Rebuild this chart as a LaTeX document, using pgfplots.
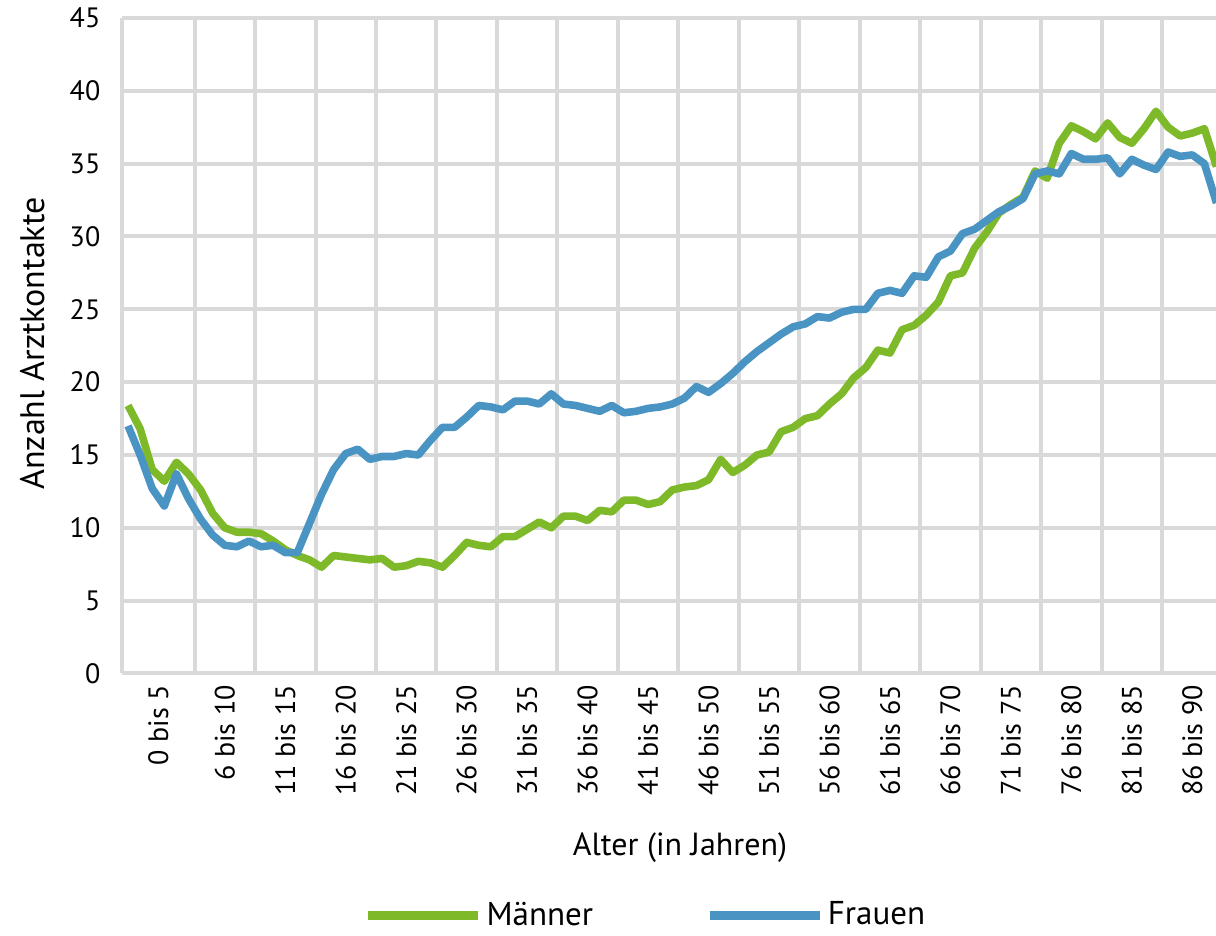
\documentclass[border=0pt]{standalone}
\usepackage{fontspec}
\setmainfont{PT Sans}
\usepackage{pgfplots}
\usepackage{pgfplotstable}
\pgfplotsset{compat=1.18}
\definecolor{mgreen}{RGB}{125,185,40}
\definecolor{fblue}{RGB}{74,148,196}
\definecolor{gridgray}{RGB}{217,217,217}
\pgfplotstableread{
a m f
0 18.4 17.0
1 16.8 15.0
2 14.0 12.7
3 13.2 11.5
4 14.5 13.7
5 13.7 12.0
6 12.6 10.6
7 11.0 9.5
8 10.0 8.8
9 9.7 8.7
10 9.7 9.1
11 9.6 8.7
12 9.1 8.8
13 8.5 8.3
14 8.1 8.3
15 7.8 10.3
16 7.3 12.3
17 8.1 14.0
18 8.0 15.1
19 7.9 15.4
20 7.8 14.7
21 7.9 14.9
22 7.3 14.9
23 7.4 15.1
24 7.7 15.0
25 7.6 16.0
26 7.3 16.9
27 8.1 16.9
28 9.0 17.6
29 8.8 18.4
30 8.7 18.3
31 9.4 18.1
32 9.4 18.7
33 9.9 18.7
34 10.4 18.5
35 10.0 19.2
36 10.8 18.5
37 10.8 18.4
38 10.5 18.2
39 11.2 18.0
40 11.1 18.4
41 11.9 17.9
42 11.9 18.0
43 11.6 18.2
44 11.8 18.3
45 12.6 18.5
46 12.8 18.9
47 12.9 19.7
48 13.3 19.3
49 14.7 19.9
50 13.8 20.6
51 14.3 21.4
52 15.0 22.1
53 15.2 22.7
54 16.6 23.3
55 16.9 23.8
56 17.5 24.0
57 17.7 24.5
58 18.5 24.4
59 19.2 24.8
60 20.3 25.0
61 21.0 25.0
62 22.2 26.1
63 22.0 26.3
64 23.6 26.1
65 23.9 27.3
66 24.6 27.2
67 25.5 28.6
68 27.3 29.0
69 27.5 30.2
70 29.2 30.5
71 30.3 31.1
72 31.6 31.7
73 32.2 32.1
74 32.7 32.6
75 34.5 34.3
76 34.0 34.5
77 36.4 34.3
78 37.6 35.7
79 37.2 35.3
80 36.7 35.3
81 37.8 35.4
82 36.8 34.3
83 36.4 35.3
84 37.4 34.9
85 38.6 34.6
86 37.5 35.8
87 36.9 35.5
88 37.1 35.6
89 37.4 35.0
90 34.8 32.3
}\data
\begin{document}
\fontsize{14}{17}\selectfont
\begin{tikzpicture}
\begin{axis}[
  at={(0,0)}, anchor=south west,
  width=547pt, height=327.75pt, scale only axis,
  xmin=-0.5, xmax=89.96, ymin=0, ymax=45,
  axis x line*=bottom, axis y line*=left,
  axis line style={draw=gridgray, line width=2pt, -},
  major tick length=0pt,
  xtick={5.5,10.5,...,85.5},
  xticklabels={},
  extra x ticks={2.5,8,13,18,23,28,33,38,43,48,53,58,63,68,73,78,83,88},
  extra x tick labels={0 bis 5,6 bis 10,11 bis 15,16 bis 20,21 bis 25,26 bis 30,31 bis 35,36 bis 40,41 bis 45,46 bis 50,51 bis 55,56 bis 60,61 bis 65,66 bis 70,71 bis 75,76 bis 80,81 bis 85,86 bis 90},
  extra x tick style={grid=none, xticklabel style={rotate=90, anchor=east, xshift=-1pt}},
  ytick={0,5,...,45},
  yticklabel style={xshift=-6pt},
  /pgf/number format/assume math mode=true,
  xmajorgrids, ymajorgrids,
  grid style={draw=gridgray, line width=2pt},
  xlabel={Alter (in Jahren)},
  xlabel style={at={(axis description cs:0.51,0)}, anchor=center, yshift=-87.25pt, font=\fontsize{16}{19}\selectfont},
  ylabel={Anzahl Arztkontakte},
  ylabel style={at={(axis description cs:0,0.5034)}, anchor=center, yshift=44.5pt, font=\fontsize{17}{20}\selectfont},
  legend columns=2,
  legend style={draw=none, fill=none, at={(axis description cs:0.4794,0)}, anchor=center, yshift=-121pt,
    font=\fontsize{16.5}{19}\selectfont, inner sep=0pt, nodes={inner ysep=0pt},
    /tikz/every even column/.append style={column sep=54pt}},
  legend image code/.code={\draw[#1, line width=4.4pt] (0pt,0pt) -- (55pt,0pt);},
]
\addplot[mgreen, line width=3.8pt, line join=round] table[x=a,y=m]{\data};
\addlegendentry{Männer}
\addplot[fblue, line width=3.8pt, line join=round] table[x=a,y=f]{\data};
\addlegendentry{Frauen}
\end{axis}
\pgfresetboundingbox
\path[use as bounding box] (-61pt,-131.25pt) rectangle (547pt,336.75pt);
\end{tikzpicture}
\end{document}
